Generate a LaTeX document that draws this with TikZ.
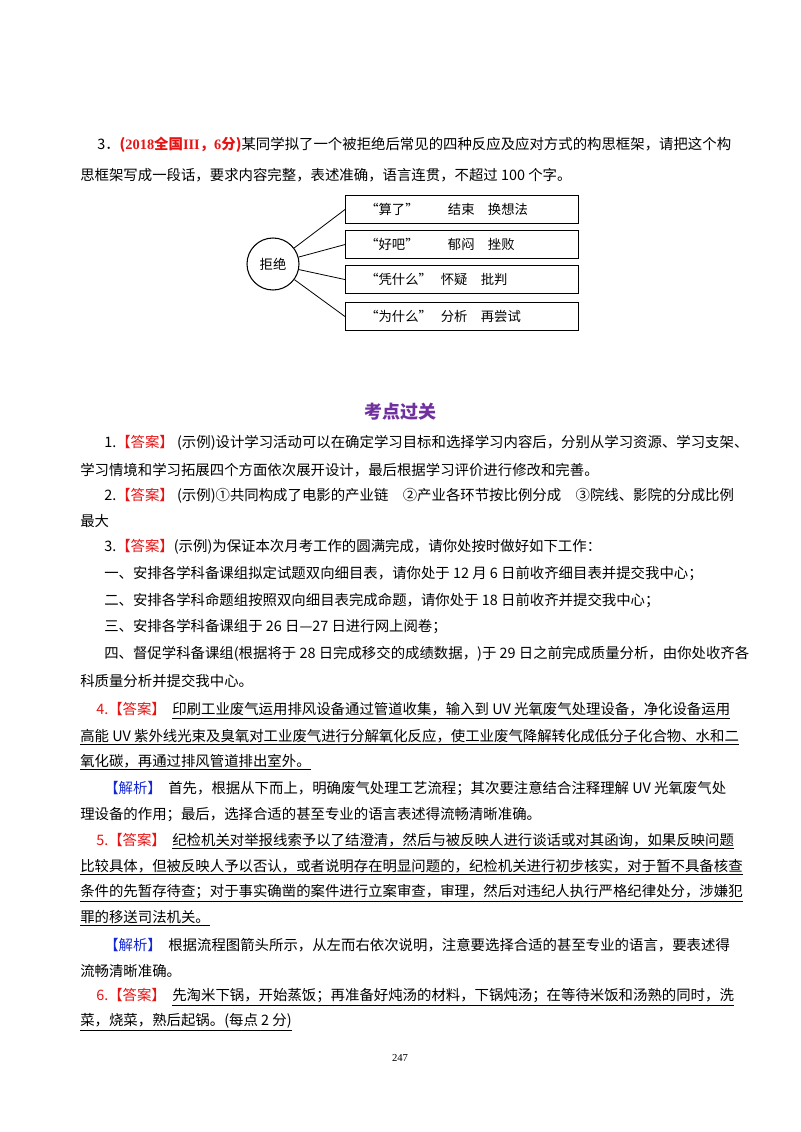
\documentclass[tikz,border=0pt]{standalone}
\usepackage{fontspec}
\setmainfont{Noto Sans CJK SC}
\newfontfamily\lat{Liberation Serif}
\definecolor{ansred}{RGB}{230,20,20}
\definecolor{ansblue}{RGB}{20,40,210}
\definecolor{ttl}{RGB}{112,48,160}
\begin{document}
\begin{tikzpicture}[x=0.75pt,y=-0.75pt,
  ln/.style={anchor=west,inner sep=0pt,font=\fontsize{10.8}{13}\selectfont},
  bx/.style={draw,line width=0.8pt,minimum width=174.75pt,minimum height=21pt,anchor=north west,inner sep=0pt},
  bt/.style={anchor=west,inner sep=0pt,font=\fontsize{10}{12}\selectfont},
  ]
\useasboundingbox[fill=white] (0,0) rectangle (800,1132);
\newcommand\red[1]{\textcolor{ansred}{#1}}
\newcommand\blu[1]{\textcolor{ansblue}{#1}}
\node[ln] (q1) at (97,145) {3．\red{\bfseries({\lat 2018}全国{\lat III}，{\lat 6}分)}某同学拟了一个被拒绝后常见的四种反应及应对方式的构思框架，请把这个构};
\node[ln] (q2) at (80,175) {思框架写成一段话，要求内容完整，表述准确，语言连贯，不超过 100 个字。};
% diagram
\node[draw,circle,line width=0.8pt,minimum size=39pt,inner sep=0pt,font=\fontsize{10}{12}\selectfont] (c) at (273,264) {拒绝};
\node[bx] (b1) at (345,195) {};
\node[bx] (b2) at (345,230) {};
\node[bx] (b3) at (345,265) {};
\node[bx] (b4) at (345,302) {};
\node[bt] (t1) at ([xshift=15pt]b1.west) {“算了”\hspace{2.2em}结束\quad 换想法};
\node[bt] (t2) at ([xshift=15pt]b2.west) {“好吧”\hspace{2.2em}郁闷\quad 挫败};
\node[bt] (t3) at ([xshift=15pt]b3.west) {“凭什么”\;\, 怀疑\quad 批判};
\node[bt] (t4) at ([xshift=15pt]b4.west) {“为什么”\;\, 分析\quad 再尝试};
\foreach \b in {b1,b2,b3,b4} \draw[line width=0.6pt] (c) -- (\b.west);
% title
\node[inner sep=0pt,font=\fontsize{13.5}{16}\selectfont\bfseries,text=ttl] (t) at (400,412) {考点过关};
\node[ln] (a1) at (104,443) {1.\red{【答案】}\ (示例)设计学习活动可以在确定学习目标和选择学习内容后，分别从学习资源、学习支架、};
\node[ln] (a1b) at (80,470) {学习情境和学习拓展四个方面依次展开设计，最后根据学习评价进行修改和完善。};
\node[ln] (a2) at (104,496) {2.\red{【答案】}\ (示例)①共同构成了电影的产业链\quad ②产业各环节按比例分成\quad ③院线、影院的分成比例};
\node[ln] (a2b) at (80,521) {最大};
\node[ln] (a3) at (104,547) {3.\red{【答案】}(示例)为保证本次月考工作的圆满完成，请你处按时做好如下工作：};
\node[ln] (a3a) at (104,574) {一、安排各学科备课组拟定试题双向细目表，请你处于 12 月 6 日前收齐细目表并提交我中心；};
\node[ln] (a3b) at (104,601) {二、安排各学科命题组按照双向细目表完成命题，请你处于 18 日前收齐并提交我中心；};
\node[ln] (a3c) at (104,627) {三、安排各学科备课组于 26 日—27 日进行网上阅卷；};
\node[ln] (a3d) at (104,654) {四、督促学科备课组(根据将于 28 日完成移交的成绩数据，)于 29 日之前完成质量分析，由你处收齐各};
\node[ln] (a3e) at (80,681) {科质量分析并提交我中心。};
\node[ln] (a4) at (96,711) {\red{4.【答案】}\ \ \underline{印刷工业废气运用排风设备通过管道收集，输入到 UV 光氧废气处理设备，净化设备运用}};
\node[ln] (a4b) at (80,737) {\underline{高能 UV 紫外线光束及臭氧对工业废气进行分解氧化反应，使工业废气降解转化成低分子化合物、水和二}};
\node[ln] (a4c) at (80,762) {\underline{氧化碳，再通过排风管道排出室外。}};
\node[ln] (j4) at (104,789) {\blu{【解析】}\ \ 首先，根据从下而上，明确废气处理工艺流程；其次要注意结合注释理解 UV 光氧废气处};
\node[ln] (j4b) at (80,815) {理设备的作用；最后，选择合适的甚至专业的语言表述得流畅清晰准确。};
\node[ln] (a5) at (96,841) {\red{5.【答案】}\ \ \underline{纪检机关对举报线索予以了结澄清，然后与被反映人进行谈话或对其函询，如果反映问题}};
\node[ln] (a5b) at (80,867) {\underline{比较具体，但被反映人予以否认，或者说明存在明显问题的，纪检机关进行初步核实，对于暂不具备核查}};
\node[ln] (a5c) at (80,893) {\underline{条件的先暂存待查；对于事实确凿的案件进行立案审查，审理，然后对违纪人执行严格纪律处分，涉嫌犯}};
\node[ln] (a5d) at (80,918) {\underline{罪的移送司法机关。}};
\node[ln] (j5) at (104,945) {\blu{【解析】}\ \ 根据流程图箭头所示，从左而右依次说明，注意要选择合适的甚至专业的语言，要表述得};
\node[ln] (j5b) at (80,971) {流畅清晰准确。};
\node[ln] (a6) at (96,997) {\red{6.【答案】}\ \ \underline{先淘米下锅，开始蒸饭；再准备好炖汤的材料，下锅炖汤；在等待米饭和汤熟的同时，洗}};
\node[ln] (a6b) at (80,1022) {\underline{菜，烧菜，熟后起锅。(每点 2 分)}};
\node[inner sep=0pt,font=\fontsize{8}{10}\selectfont\lat] (pg) at (400,1058) {247};
\end{tikzpicture}
\end{document}
